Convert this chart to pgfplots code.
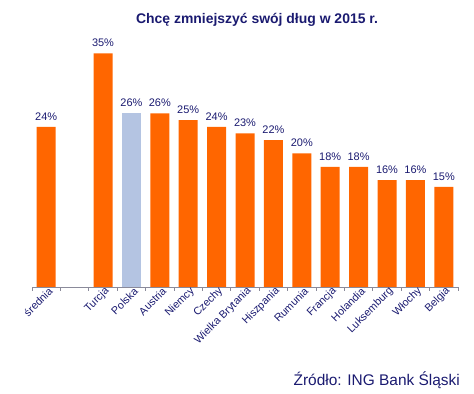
\documentclass[border=0pt]{standalone}
\usepackage{pgfplots}
\pgfplotsset{compat=1.18}
\usepackage{fontspec}
\setmainfont{Liberation Sans}
\definecolor{ingorange}{HTML}{FF6600}
\definecolor{plblue}{HTML}{B4C4E2}
\definecolor{navy}{HTML}{1A1A70}
\definecolor{axgray}{HTML}{8A8A9A}
\begin{document}
\begin{tikzpicture}
\path[use as bounding box] (0,0) rectangle (474bp,394bp);
\begin{axis}[
  at={(32bp,107bp)}, anchor=south west,
  width=426bp, height=257bp, scale only axis,
  ymin=0, ymax=38.5, xmin=-0.5, xmax=14.5,
  axis x line*=bottom, axis y line=none,
  x axis line style={axgray, line width=0.8pt, -},
  xtick={0,...,14},
  xticklabels={średnia,,Turcja,Polska,Austria,Niemcy,Czechy,Wielka Brytania,Hiszpania,Rumunia,Francja,Holandia,Luksemburg,Włochy,Belgia},
  major tick length=0pt,
  minor xtick={-0.5,0.5,...,14.5},
  minor tick length=4pt,
  every tick/.style={axgray, line width=0.8pt},
  tick align=outside,
  xticklabel style={rotate=45, anchor=east, font=\fontsize{10.8}{12}\selectfont, text=navy, inner sep=1pt, yshift=-5pt, xshift=2.5pt},
  /pgf/number format/assume math mode=true,
  nodes near coords={\pgfmathprintnumber{\pgfplotspointmeta}\%},
  every node near coord/.style={font=\fontsize{11}{12}\selectfont, text=navy, yshift=3pt},
  ybar, bar width=19bp, bar shift=0pt,
  clip=false,
]
\addplot[fill=ingorange, draw=none] coordinates {
  (0,24) (2,35) (4,26) (5,25) (6,24) (7,23) (8,22) (9,20) (10,18) (11,18) (12,16) (13,16) (14,15)
};
\addplot[fill=plblue, draw=none] coordinates {(3,26)};
\end{axis}
\node[font=\bfseries\fontsize{14}{16}\selectfont, text=navy] at (257bp,374bp) {Chcę zmniejszyć swój dług w 2015 r.};
\node[font=\fontsize{15.5}{17}\selectfont, text=navy, anchor=base east, inner sep=0pt] at (460bp,9bp) {Źródło: ING Bank Śląski};
\end{tikzpicture}
\end{document}
